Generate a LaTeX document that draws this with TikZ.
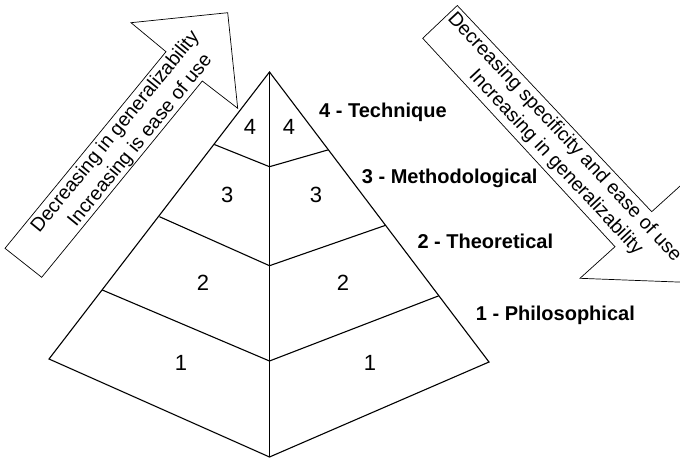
\documentclass[tikz,border=0pt]{standalone}
\usepackage{fontspec}
\setmainfont{Liberation Sans}
\begin{document}
\begin{tikzpicture}[x=1pt,y=-1pt,
  pyr/.style={line width=1.1pt, line join=miter},
  arr/.style={line width=0.7pt, line join=miter},
  num/.style={font=\fontsize{22}{26}\selectfont, inner sep=0pt},
  lvl/.style={font=\fontsize{20}{24}\selectfont\bfseries, inner sep=0pt, anchor=base west},
  atext/.style={font=\fontsize{19.5}{22}\selectfont, inner sep=0pt}]
\useasboundingbox (0,0) rectangle (680,461);
\clip (0,0) rectangle (680,461);

% ---- left arrow (up) ----
\coordinate (la1) at (5,248.3);
\coordinate (la2) at (166,51.7);
\coordinate (la3) at (131,22.7);
\coordinate (la4) at (227.7,12.7);
\coordinate (la5) at (237.7,108.3);
\coordinate (la6) at (202.3,81);
\coordinate (la7) at (41.7,277.3);
\draw[arr] (la1) -- (la2) -- (la3) -- (la4) -- (la5) -- (la6) -- (la7) -- cycle;
\node[atext, rotate=50.77] (lt1) at (115.7,132.4) {Decreasing in generalizability};
\node[atext, rotate=50.77] (lt2) at (140.5,140.7) {Increasing is ease of use};

% ---- right arrow (down) ----
\coordinate (ra1) at (457.3,5.5);
\coordinate (ra2) at (651.7,211.7);
\coordinate (ra3) at (686.6,180.1);
\coordinate (ra4) at (682.7,282.2);
\coordinate (ra5) at (580,278.3);
\coordinate (ra6) at (615,246.7);
\coordinate (ra7) at (422.7,38.3);
\draw[arr] (ra1) -- (ra2) -- (ra3) -- (ra4) -- (ra5) -- (ra6) -- (ra7) -- cycle;
\node[atext, rotate=-47] (rt1) at (564.3,137.4) {Decreasing specificity and ease of use};
\node[atext, rotate=-47] (rt2) at (555.7,162.6) {Increasing in generalizability};

% ---- pyramid ----
\coordinate (A) at (269.5,72);
\coordinate (B) at (269.5,457);
\coordinate (L) at (49,359);
\coordinate (R) at (489,362);
\coordinate (L3) at (214.3,144.5);
\coordinate (L2) at (159.5,216.7);
\coordinate (L1) at (102.3,290);
\coordinate (C3) at (269.5,166.7);
\coordinate (C2) at (269.5,265.7);
\coordinate (C1) at (269.5,361);
\coordinate (R3) at (327.7,150);
\coordinate (R2) at (385,225.5);
\coordinate (R1) at (439,295.7);
\draw[pyr] (A) -- (L) -- (B) -- (R) -- cycle;
\draw[pyr] (A) -- (B);
\draw[pyr] (L3) -- (C3) -- (R3);
\draw[pyr] (L2) -- (C2) -- (R2);
\draw[pyr] (L1) -- (C1) -- (R1);

\node[num] (n4l) at (250,126.7) {4};
\node[num] (n4r) at (289,126.7) {4};
\node[num] (n3l) at (227.3,195) {3};
\node[num] (n3r) at (316,195) {3};
\node[num] (n2l) at (203,283) {2};
\node[num] (n2r) at (343,283) {2};
\node[num] (n1l) at (181,363) {1};
\node[num] (n1r) at (370,363) {1};

\node[lvl] (t4) at (319,117.7) {4 - Technique};
\node[lvl] (t3) at (361.7,183.3) {3 - Methodological};
\node[lvl] (t2) at (417.3,248.3) {2 - Theoretical};
\node[lvl] (t1) at (475.7,320) {1 - Philosophical};
\end{tikzpicture}
\end{document}
